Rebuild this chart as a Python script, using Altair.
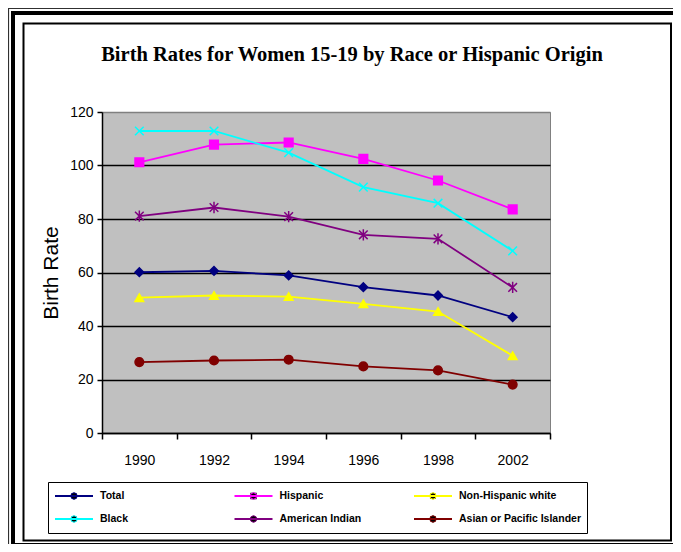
import altair as alt
import pandas as pd

# ---- data ----
years = ["1990", "1992", "1994", "1996", "1998", "2002"]
series_names = ["Total", "Hispanic", "Non-Hispanic white", "Black",
                "American Indian", "Asian or Pacific Islander"]
total = [60.1, 60.6, 58.9, 54.5, 51.4, 43.3]
hispanic = [101.2, 107.8, 108.6, 102.5, 94.4, 83.6]
nh_white = [50.6, 51.4, 51.0, 48.3, 45.4, 28.9]
black = [112.9, 112.9, 104.8, 91.9, 85.9, 68.1]
am_indian = [81.1, 84.3, 80.9, 74.1, 72.6, 54.4]
asian = [26.5, 27.1, 27.4, 24.9, 23.4, 18.1]
y_ticks = [0, 20, 40, 60, 80, 100, 120]

title_text = "Birth Rates for Women 15-19 by Race or Hispanic Origin"
y_title = "Birth Rate"

colors = ["#000080", "#FF00FF", "#FFFF00", "#00FFFF", "#800080", "#800000"]
shapes = ["diamond", "square", "triangle-up",
          "M-1,-1L1,1M-1,1L1,-1",
          "M-1,-1L1,1M-1,1L1,-1M0,-1.3L0,1.3",
          "circle"]

values_by_series = [total, hispanic, nh_white, black, am_indian, asian]
rows = []
for name, vals in zip(series_names, values_by_series):
    for yr, v in zip(years, vals):
        rows.append({"year": yr, "series": name, "marker": name, "rate": v})
df = pd.DataFrame(rows)
one = pd.DataFrame({"k": [0]})

FONT = "Liberation Sans"

x_axis = alt.Axis(title=None, labelAngle=0, tickBand="extent", labelFont=FONT,
                  labelFontSize=14, labelColor="black", domainColor="black",
                  domainWidth=1.5, tickColor="black", tickSize=6, tickWidth=1.5,
                  labelPadding=14, grid=False)
y_axis = alt.Axis(values=y_ticks, title=y_title, titleFont=FONT, titleFontSize=21,
                  titleFontWeight="normal", titleColor="black", titlePadding=8,
                  labelFont=FONT, labelFontSize=14, labelColor="black",
                  labelPadding=4, domainColor="black", domainWidth=1.5,
                  tickColor="black", tickSize=5, tickWidth=1.5,
                  grid=True, gridWidth=1.5,
                  gridColor={"condition": {"test": "datum.value >= 120", "value": "#808080"},
                             "value": "black"})

x_enc = alt.X("year:O", sort=years,
              scale=alt.Scale(type="band", paddingInner=0, paddingOuter=0), axis=x_axis)
y_enc = alt.Y("rate:Q", scale=alt.Scale(domain=[0, 120]), axis=y_axis)

LX, LY = -54, 370
legend_lines = alt.Legend(title=None, orient="none", legendX=LX, legendY=LY,
                          direction="horizontal", columns=3, gridAlign="all",
                          symbolType="stroke", symbolSize=1444, symbolStrokeWidth=2,
                          symbolOffset=0, labelOffset=6, labelFont=FONT,
                          labelFontSize=10.5, labelFontWeight="bold", labelColor="black",
                          clipHeight=16, rowPadding=7, columnPadding=11.5, padding=6,
                          strokeColor="black", labelLimit=200)
legend_marks = alt.Legend(title=None, orient="none", legendX=LX, legendY=LY,
                          direction="horizontal", columns=3, gridAlign="all",
                          symbolSize=40, symbolStrokeWidth=1,
                          symbolOffset=14.75, labelOffset=20.75, labelFont=FONT,
                          labelFontSize=10.5, labelFontWeight="bold", labelOpacity=0,
                          clipHeight=16, rowPadding=7, columnPadding=11.5, padding=6,
                          labelLimit=200)

lines = alt.Chart(df).mark_line(strokeWidth=1.8).encode(
    x=x_enc, y=y_enc,
    color=alt.Color("series:N", sort=series_names, scale=alt.Scale(range=colors),
                    legend=legend_lines),
)

points = alt.Chart(df).mark_point(filled=True, size=75, strokeWidth=1.5, opacity=1).encode(
    x=x_enc, y=y_enc,
    fill=alt.Fill("marker:N", sort=series_names, scale=alt.Scale(range=colors),
                  legend=legend_marks),
    stroke=alt.Stroke("marker:N", sort=series_names, scale=alt.Scale(range=colors),
                      legend=legend_marks),
    shape=alt.Shape("marker:N", sort=series_names, scale=alt.Scale(range=shapes),
                    legend=legend_marks),
)

title = alt.Chart(one).mark_text(font="Liberation Serif", fontWeight="bold", fontSize=20.5,
                                 align="center", baseline="middle", color="black").encode(
    x=alt.value(250), y=alt.value(-57), text=alt.value(title_text))

frame_outer = alt.Chart(one).mark_rect(fillOpacity=0, stroke="#303030", strokeWidth=1.2).encode(
    x=alt.value(-93.5), y=alt.value(-103.5), x2=alt.value(700), y2=alt.value(437.5))
frame_thick = alt.Chart(one).mark_rect(fillOpacity=0, stroke="black", strokeWidth=4).encode(
    x=alt.value(-89), y=alt.value(-99), x2=alt.value(700), y2=alt.value(433))
frame_inner = alt.Chart(one).mark_rect(fillOpacity=0, stroke="black", strokeWidth=2).encode(
    x=alt.value(-78.5), y=alt.value(-88.5), x2=alt.value(569), y2=alt.value(428.5))

chart = alt.layer(frame_outer, frame_thick, frame_inner, title, lines, points).properties(
    width=448, height=321,
    padding={"left": 94, "top": 104, "right": 123, "bottom": 111},
    autosize=alt.AutoSizeParams(type="none"),
    background="white",
).resolve_scale(
    color="independent"
).configure_view(
    fill="#C0C0C0", stroke="#808080", strokeWidth=1
)

chart.save("out.html", embed_options={"renderer": "svg", "actions": False})
